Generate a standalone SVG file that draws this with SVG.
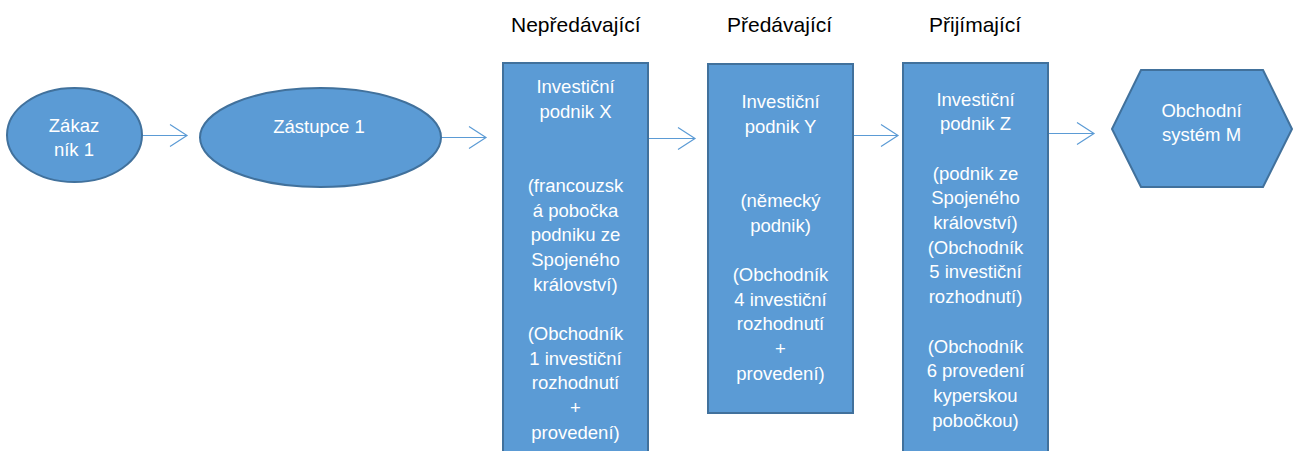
<svg xmlns="http://www.w3.org/2000/svg" width="1300" height="451" viewBox="0 0 1300 451">
<defs>
<marker id="arr" viewBox="0 0 20 24" refX="18" refY="12" markerWidth="20" markerHeight="24" markerUnits="userSpaceOnUse" orient="auto">
<path d="M1,1 L18,12 L1,23" fill="none" stroke="#5B9BD5" stroke-width="1.2"/>
</marker>
<style>
.shape{fill:#5B9BD5;stroke:#41719C;stroke-width:2}
.t{font-family:"Liberation Sans",Arial,sans-serif;font-size:18.5px;fill:#FFFFFF;text-anchor:middle}
.h{font-family:"Liberation Sans",Arial,sans-serif;font-size:21px;fill:#000000}
.c{fill:none;stroke:#5B9BD5;stroke-width:1.2;marker-end:url(#arr)}
</style>
</defs>
<rect width="1300" height="451" fill="#FFFFFF"/>
<g id="headers">
<text class="h" x="511" y="32">Nepředávající</text>
<text class="h" x="727" y="32">Předávající</text>
<text class="h" x="929" y="32">Přijímající</text>
</g>
<g id="connectors">
<line class="c" x1="142" y1="135.5" x2="187" y2="135.5"/>
<line class="c" x1="441" y1="137.5" x2="486" y2="137.5"/>
<line class="c" x1="648" y1="138.5" x2="695" y2="138.5"/>
<line class="c" x1="853" y1="135.5" x2="898" y2="135.5"/>
<line class="c" x1="1048" y1="133.5" x2="1094" y2="133.5"/>
</g>
<g id="zakaznik1">
<ellipse class="shape" cx="74.5" cy="135" rx="67.5" ry="47"/>
<text class="t" x="74" y="131.5">Zákaz</text>
<text class="t" x="74" y="156">ník 1</text>
</g>
<g id="zastupce1">
<ellipse class="shape" cx="320.5" cy="137.5" rx="120.5" ry="49.5"/>
<text class="t" x="319" y="132.5">Zástupce 1</text>
</g>
<g id="podnikX">
<rect class="shape" x="503" y="63" width="145" height="400"/>
<text class="t" x="575.5" y="93">Investiční</text>
<text class="t" x="575.5" y="117.7">podnik X</text>
<text class="t" x="575.5" y="191.8">(francouzsk</text>
<text class="t" x="575.5" y="216.5">á pobočka</text>
<text class="t" x="575.5" y="241.2">podniku ze</text>
<text class="t" x="575.5" y="265.9">Spojeného</text>
<text class="t" x="575.5" y="290.6">království)</text>
<text class="t" x="575.5" y="340">(Obchodník</text>
<text class="t" x="575.5" y="364.7">1 investiční</text>
<text class="t" x="575.5" y="389.4">rozhodnutí</text>
<text class="t" x="575.5" y="414.1">+</text>
<text class="t" x="575.5" y="438.8">provedení)</text>
</g>
<g id="podnikY">
<rect class="shape" x="708" y="64" width="145" height="349"/>
<text class="t" x="780.5" y="108">Investiční</text>
<text class="t" x="780.5" y="132.7">podnik Y</text>
<text class="t" x="780.5" y="206.8">(německý</text>
<text class="t" x="780.5" y="231.5">podnik)</text>
<text class="t" x="780.5" y="280.9">(Obchodník</text>
<text class="t" x="780.5" y="305.6">4 investiční</text>
<text class="t" x="780.5" y="330.3">rozhodnutí</text>
<text class="t" x="780.5" y="355">+</text>
<text class="t" x="780.5" y="379.7">provedení)</text>
</g>
<g id="podnikZ">
<rect class="shape" x="903" y="63" width="145" height="400"/>
<text class="t" x="975.5" y="105.5">Investiční</text>
<text class="t" x="975.5" y="130.2">podnik Z</text>
<text class="t" x="975.5" y="179.6">(podnik ze</text>
<text class="t" x="975.5" y="204.3">Spojeného</text>
<text class="t" x="975.5" y="229">království)</text>
<text class="t" x="975.5" y="253.7">(Obchodník</text>
<text class="t" x="975.5" y="278.4">5 investiční</text>
<text class="t" x="975.5" y="303.1">rozhodnutí)</text>
<text class="t" x="975.5" y="352.5">(Obchodník</text>
<text class="t" x="975.5" y="377.2">6 provedení</text>
<text class="t" x="975.5" y="401.9">kyperskou</text>
<text class="t" x="975.5" y="426.6">pobočkou)</text>
</g>
<g id="systemM">
<polygon class="shape" points="1112,129 1141,70 1263,70 1292,129 1263,187 1141,187"/>
<text class="t" x="1201.5" y="116.5">Obchodní</text>
<text class="t" x="1201.5" y="140.5">systém M</text>
</g>
</svg>
